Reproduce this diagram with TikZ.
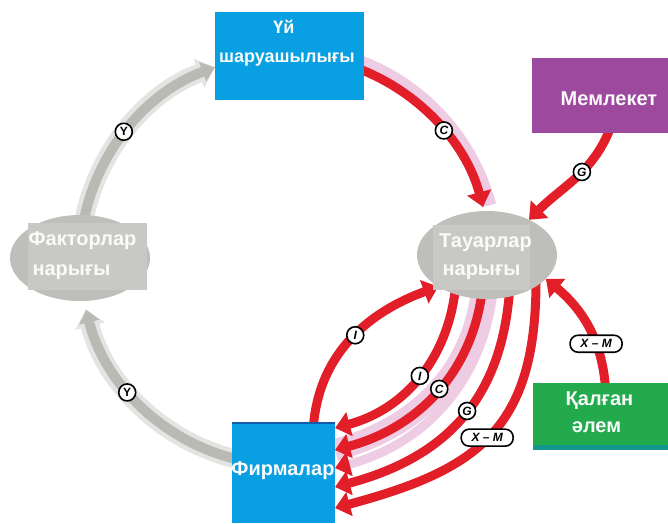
\documentclass[tikz,border=0pt]{standalone}
\usepackage{fontspec}
\setmainfont{Liberation Sans}
\usetikzlibrary{arrows.meta,shapes.geometric,backgrounds,calc}
\definecolor{cblue}{RGB}{8,160,226}
\definecolor{cblueedge}{RGB}{20,90,170}
\definecolor{cpurple}{RGB}{157,74,158}
\definecolor{cgreen}{RGB}{34,170,76}
\definecolor{cteal}{RGB}{16,150,140}
\definecolor{cellipse}{RGB}{190,190,186}
\definecolor{cellrect}{RGB}{200,200,197}
\definecolor{ctext}{RGB}{250,250,250}
\definecolor{cred}{RGB}{226,30,40}
\definecolor{cpink}{RGB}{237,204,228}
\definecolor{cgreycore}{RGB}{186,186,181}
\definecolor{cgreyhalo}{RGB}{228,228,226}
\tikzset{
  boxnode/.style={rectangle, inner sep=0pt, outer sep=0pt},
  ellnode/.style={ellipse, fill=cellipse, inner sep=0pt, outer sep=0pt},
  txt/.style={text=ctext, font=\bfseries\fontsize{20}{28}\selectfont, inner sep=0pt, anchor=base},
  txtsmall/.style={txt, font=\bfseries\fontsize{18}{28}\selectfont},
  redarrow/.style={draw=cred, line width=9pt, -{Triangle[length=15pt,width=24pt]}},
  pinkband/.style={draw=cpink, line width=22pt},
  pinkarrow/.style={draw=cpink, line width=9pt, -{Triangle[length=15pt,width=24pt,color=cred]}},
  greyhalo/.style={draw=cgreyhalo, line width=19pt, -{Triangle[length=17pt,width=30pt]}},
  greycore/.style={draw=cgreycore, line width=10pt, -{Triangle[length=13pt,width=20pt]}},
  lbl/.style={circle, draw=black, line width=1.6pt, fill=white, inner sep=0pt, minimum size=17pt, font=\bfseries\itshape\fontsize{12}{12}\selectfont},
  pill/.style={rectangle, rounded corners=8pt, draw=black, line width=1.6pt, fill=white, inner sep=0pt, minimum height=17pt, minimum width=52pt, font=\bfseries\itshape\fontsize{12}{12}\selectfont}
}
\begin{document}
\begin{tikzpicture}[x=1pt,y=1pt]
\useasboundingbox (0,0) rectangle (668,-523);
% nodes
\node[boxnode, fill=cblue, minimum width=149, minimum height=88] (uy) at (289.5,-56) {};
\node[txtsmall] (uyt1) at (284,-33) {Үй};
\node[txtsmall] (uyt2) at (287,-62) {шаруашылығы};
\node[boxnode, fill=cpurple, minimum width=136, minimum height=75] (mem) at (600,-95.5) {};
\node[txt] (memt) at (609,-105) {Мемлекет};
\node[ellnode, minimum width=140, minimum height=88] (tov) at (487,-255) {};
\node[boxnode, fill=cellrect, minimum width=97, minimum height=65] (tovr) at (481.5,-257.5) {};
\node[txt] (tovt1) at (485.5,-247) {Тауарлар};
\node[txt] (tovt2) at (481.5,-275) {нарығы};
\node[ellnode, minimum width=140, minimum height=86] (fak) at (80,-258) {};
\node[boxnode, fill=cellrect, minimum width=119, minimum height=67] (fakr) at (87.5,-256.5) {};
\node[txt] (fakt1) at (82.5,-245) {Факторлар};
\node[txt] (fakt2) at (71.5,-275) {нарығы};
\node[boxnode, fill=cblue, minimum width=103, minimum height=100] (firm) at (283.5,-473) {};
\draw[cblueedge, line width=1.5pt] (firm.north west) -- (firm.north east);
\node[txt] (firmt) at (283,-475) {Фирмалар};
\node[boxnode, fill=cteal, minimum width=135, minimum height=67] (worldb) at (600.5,-416.5) {};
\node[boxnode, fill=cgreen, minimum width=135, minimum height=62] (world) at (600.5,-414) {};
\node[txt] (worldt1) at (599.5,-405) {Қалған};
\node[txt] (worldt2) at (596.5,-432) {әлем};
% connectors
\begin{scope}[on background layer]
\coordinate (ctr) at (285,-260);
\coordinate (gA) at ($(ctr)+(170:205)$);
\coordinate (gB) at ($(ctr)+(257:205)$);
\coordinate (cA) at ($(ctr)+(71:211)$);
\coordinate (cB) at ($(ctr)+(70:205)$);
% grey arcs
\draw[greyhalo] (gA) arc[start angle=170, end angle=110, radius=205];
\draw[greycore] (gA) arc[start angle=170, end angle=110, radius=205];
\draw[greyhalo] (gB) arc[start angle=257, end angle=194, radius=205];
\draw[greycore] (gB) arc[start angle=257, end angle=194, radius=205];
\node[lbl, font=\bfseries\fontsize{12}{12}\selectfont] (ly1) at ($(ctr)+(141.5:206)$) {Y};
\node[lbl, font=\bfseries\fontsize{12}{12}\selectfont] (ly2) at ($(ctr)+(220:206)$) {Y};
% C from households
\draw[draw=cpink, line width=15pt] (cA) arc[start angle=71, end angle=15, radius=211];
\draw[redarrow] (cB) arc[start angle=70, end angle=15, radius=205] node[lbl, pos=0.56] (lc1) {C};
% G from state
\draw[redarrow] ([xshift=10pt,yshift=4pt]mem.south) to[out=-112, in=45] node[lbl, pos=0.42] (lg1) {G} (tov.40);
% X-M from world
\draw[redarrow] ([xshift=5pt,yshift=-4pt]world.north) to[out=95, in=-40] node[pill, pos=0.34] (lxm1) {X – M} (tov.-22);
% I upward
\draw[redarrow] ([xshift=30pt,yshift=-2pt]firm.north) to[out=85, in=200] node[lbl, pos=0.52] (li1) {I} (tov.-147);
% downward
\coordinate (s1) at (456,-283);
\coordinate (s2) at (483,-283);
\coordinate (s3) at (494,-283);
\coordinate (s4) at (510,-283);
\coordinate (s5) at (536,-281);
\draw[pinkband] (s2) to[out=-95, in=15] ([yshift=23pt]firm.east);
\draw[pinkarrow] (s3) to[out=-95, in=15] ([yshift=5pt]firm.east);
\draw[redarrow] (s1) to[out=-95, in=15] node[lbl, pos=0.5] (li2) {I} ([yshift=45pt]firm.east);
\draw[redarrow] (s2) to[out=-95, in=15] node[lbl, pos=0.49] (lc2) {C} ([yshift=23pt]firm.east);
\draw[redarrow] (s4) to[out=-93, in=15, looseness=1.1] node[lbl, pos=0.47] (lg2) {G} ([yshift=-14pt]firm.east);
\draw[redarrow] (s5) to[out=-90, in=15, looseness=1.25] node[pill, pos=0.51] (lxm2) {X – M} ([yshift=-35pt]firm.east);
\end{scope}
\end{tikzpicture}
\end{document}
